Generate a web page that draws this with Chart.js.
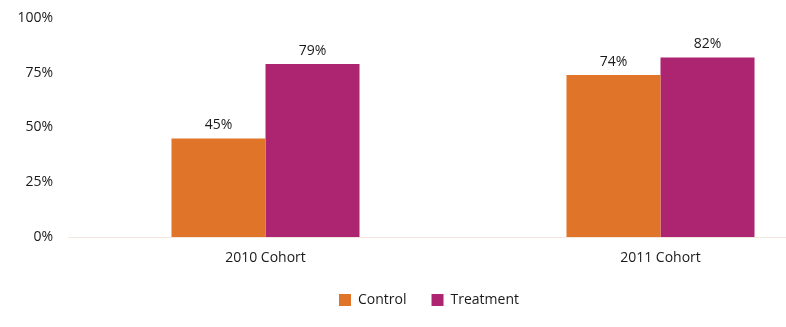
<!DOCTYPE html>
<html lang="en">
<head>
    <meta charset="UTF-8">
    <title>Cohort Chart</title>
    <script src="https://cdn.jsdelivr.net/npm/chart.js"></script>
    <style>
        html, body { margin: 0; padding: 0; background: #fff; overflow: hidden; }
        #wrap { width: 858px; height: 327px; }
    </style>
</head>
<body>
    <div id="wrap"><canvas id="cohortChart"></canvas></div>

    <script>
        // Data
        const categories = ['2010 Cohort', '2011 Cohort'];
        const controlValues = [45, 74];
        const treatmentValues = [79, 82];
        const yTicks = [0, 25, 50, 75, 100];

        // label persen di atas bar
        const valueLabels = {
            id: 'valueLabels',
            afterDatasetsDraw(chart) {
                const ctx = chart.ctx;
                ctx.save();
                ctx.font = '14px "Open Sans"';
                ctx.fillStyle = '#1a1a1a';
                ctx.textAlign = 'center';
                ctx.textBaseline = 'bottom';
                chart.data.datasets.forEach((ds, i) => {
                    chart.getDatasetMeta(i).data.forEach((bar, j) => {
                        ctx.fillText(ds.data[j] + '%', bar.x, bar.y - 6);
                    });
                });
                ctx.restore();
            }
        };

        const ctx = document.getElementById('cohortChart').getContext('2d');
        new Chart(ctx, {
            type: 'bar',
            data: {
                labels: categories,
                datasets: [{
                    label: 'Control',
                    data: controlValues,
                    backgroundColor: '#E07428'
                }, {
                    label: 'Treatment',
                    data: treatmentValues,
                    backgroundColor: '#AD2570'
                }]
            },
            options: {
                responsive: true,
                maintainAspectRatio: false,
                animation: false,
                layout: { padding: { top: 18, right: 0, bottom: 10 } },
                datasets: { bar: { barPercentage: 1, categoryPercentage: 0.476 } },
                scales: {
                    x: {
                        afterFit: axis => { axis.height = 31; },
                        grid: { display: false, drawTicks: false },
                        border: { display: true, color: '#F3E6DE', width: 1 },
                        ticks: { color: '#1a1a1a', font: { family: 'Open Sans', size: 14 }, padding: 13 }
                    },
                    y: {
                        min: 0,
                        max: 100,
                        afterBuildTicks: axis => { axis.ticks = yTicks.map(v => ({ value: v })); },
                        afterFit: axis => { axis.width = 68; },
                        grid: { display: false, drawTicks: true, tickLength: 15 },
                        border: { display: false },
                        ticks: {
                            color: '#1a1a1a',
                            font: { family: 'Open Sans', size: 14 },
                            padding: 0,
                            callback: v => v + '%'
                        }
                    }
                },
                plugins: {
                    tooltip: { enabled: false },
                    legend: {
                        position: 'bottom',
                        labels: {
                            color: '#1a1a1a',
                            font: { family: 'Open Sans', size: 14 },
                            boxWidth: 12,
                            boxHeight: 12,
                            padding: 25
                        }
                    }
                }
            },
            plugins: [valueLabels]
        });
    </script>
</body>
</html>
